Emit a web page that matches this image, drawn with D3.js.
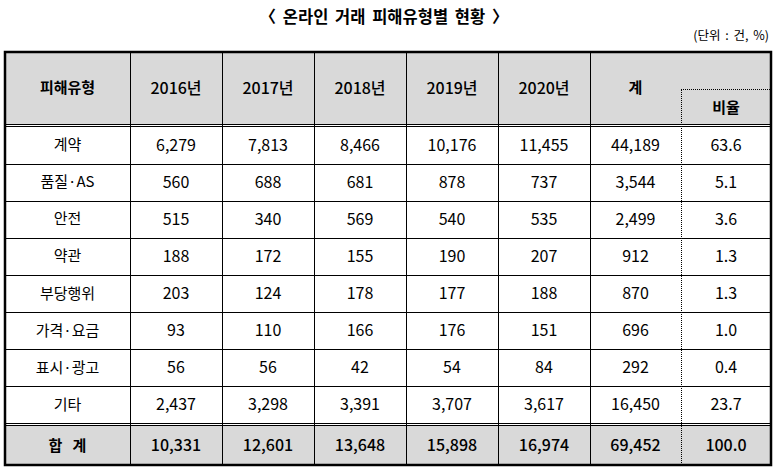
<!DOCTYPE html>
<html><head><meta charset="utf-8">
<script src="https://cdn.jsdelivr.net/npm/d3@7"></script>
<style>
html,body{margin:0;padding:0;background:#fff;}
svg{display:block;font-family:"Noto Sans CJK KR","Noto Sans",sans-serif;}
</style></head>
<body><svg id="c" width="777" height="471"></svg>
<script>
const title = "〈 온라인 거래 피해유형별 현황 〉";
const unitLabel = "(단위 : 건, %)";
const headerLabel = "피해유형";
const years = ["2016년","2017년","2018년","2019년","2020년"];
const sumLabel = "계";
const ratioLabel = "비율";
const categories = ["계약","품질·AS","안전","약관","부당행위","가격·요금","표시·광고","기타"];
const v2016 = [6279,560,515,188,203,93,56,2437];
const v2017 = [7813,688,340,172,124,110,56,3298];
const v2018 = [8466,681,569,155,178,166,42,3391];
const v2019 = [10176,878,540,190,177,176,54,3707];
const v2020 = [11455,737,535,207,188,151,84,3617];
const sums = [44189,3544,2499,912,870,696,292,16450];
const ratios = [63.6,5.1,3.6,1.3,1.3,1.0,0.4,23.7];
const totalLabel = "합   계";
const totalYears = [10331,12601,13648,15898,16974];
const totalSum = 69452;
const totalRatio = 100.0;

(function(){
const svg = d3.select("#c");
const fmt = d3.format(",");
const fmt1 = d3.format(".1f");

const colEdges = [5,130,222,314,406,498,590,681,771];
const tblTop = 52, headBottom = 124, bodyTop = 126.5, bodyBottom = 423, totTop = 425.5, tblBottom = 465;
const nRows = categories.length;
const rowY = d3.scaleBand().domain(d3.range(nRows)).range([bodyTop, bodyBottom]).paddingInner(0);
const colX = i => (colEdges[i] + colEdges[i+1]) / 2;

svg.append("text").attr("x", 384).attr("y", 23).attr("text-anchor","middle")
  .attr("font-size", 16.5).attr("font-weight", 700).attr("fill","#000")
  .attr("word-spacing", 3).text(title);
svg.append("text").attr("x", 769).attr("y", 40).attr("text-anchor","end")
  .attr("font-size", 12.5).attr("fill","#000").attr("word-spacing", 2).text(unitLabel);

svg.append("rect").attr("x", colEdges[0]).attr("y", tblTop).attr("width", colEdges[8]-colEdges[0])
  .attr("height", headBottom-tblTop).attr("fill","#d9d9d9");
svg.append("rect").attr("x", colEdges[0]).attr("y", totTop).attr("width", colEdges[8]-colEdges[0])
  .attr("height", tblBottom-totTop).attr("fill","#d9d9d9");

const lines = svg.append("g").attr("stroke","#000").attr("stroke-width",1).attr("shape-rendering","crispEdges");
colEdges.slice(1,7).forEach(x => {
  lines.append("line").attr("x1",x+0.5).attr("x2",x+0.5).attr("y1",tblTop).attr("y2",tblBottom);
});
lines.append("line").attr("x1",681.5).attr("x2",681.5).attr("y1",89.5).attr("y2",tblBottom)
  .attr("stroke-dasharray","1,1");
lines.append("line").attr("x1",681).attr("x2",771).attr("y1",89.5).attr("y2",89.5)
  .attr("stroke-dasharray","1,1");
[headBottom, bodyTop-0.5].forEach(y => lines.append("line").attr("x1",5).attr("x2",771).attr("y1",y+0.5).attr("y2",y+0.5));
d3.range(1,nRows).forEach(i => {
  const y = Math.round(rowY(i));
  lines.append("line").attr("x1",5).attr("x2",771).attr("y1",y+0.5).attr("y2",y+0.5);
});
[bodyBottom-0.5, totTop-0.5].forEach(y => lines.append("line").attr("x1",5).attr("x2",771).attr("y1",y+0.5).attr("y2",y+0.5));
svg.append("rect").attr("x", 5).attr("y", tblTop).attr("width", 766).attr("height", tblBottom-tblTop)
  .attr("fill","none").attr("stroke","#000").attr("stroke-width",2.5);

const hdr = svg.append("g").attr("font-size",15).attr("font-weight",700).attr("text-anchor","middle").attr("fill","#000");
hdr.append("text").attr("x", colX(0)).attr("y", 88).attr("dy","0.35em").text(headerLabel);
years.forEach((y,i) => hdr.append("text").attr("x", colX(i+1)).attr("y", 88).attr("dy","0.35em").attr("font-weight",500).attr("font-size",16).text(y));
hdr.append("text").attr("x", colX(6)).attr("y", 88).attr("dy","0.35em").text(sumLabel);
hdr.append("text").attr("x", colX(7)).attr("y", 108).attr("dy","0.35em").text(ratioLabel);

const body = svg.append("g").attr("font-size",16).attr("text-anchor","middle").attr("fill","#000");
const yearSeries = [v2016,v2017,v2018,v2019,v2020];
categories.forEach((c,r) => {
  const cy = rowY(r) + rowY.bandwidth()/2;
  const row = [c, ...yearSeries.map(s => fmt(s[r])), fmt(sums[r]), fmt1(ratios[r])];
  row.forEach((t,i) => body.append("text").attr("x", colX(i)).attr("y", cy).attr("dy","0.35em")
    .attr("font-size", i===0?15:16).text(t));
});
const tot = svg.append("g").attr("font-size",16).attr("text-anchor","middle").attr("fill","#000");
const tcy = (totTop + tblBottom)/2;
const trow = [totalLabel, ...totalYears.map(fmt), fmt(totalSum), fmt1(totalRatio)];
trow.forEach((t,i) => tot.append("text").attr("x", colX(i)).attr("y", tcy).attr("dy","0.35em")
  .style("white-space","pre").attr("font-size", i===0?15:16).attr("font-weight", i===0?700:500).text(t));
})();
</script></body></html>
